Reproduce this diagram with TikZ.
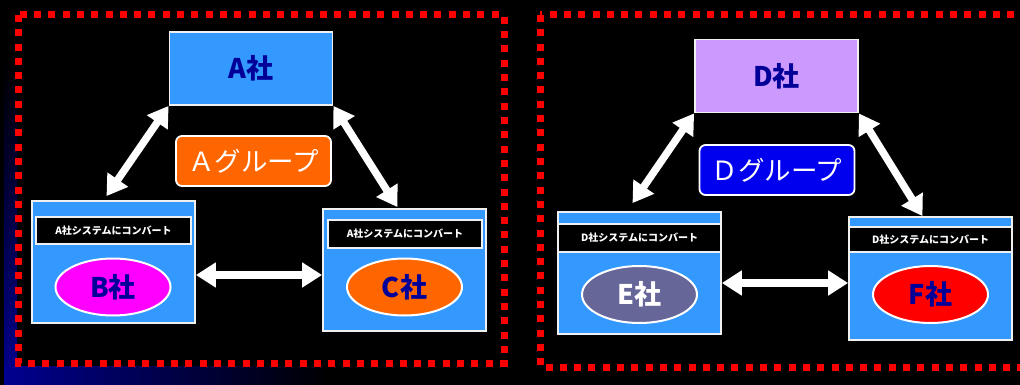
\documentclass[tikz,border=0pt]{standalone}
\usepackage{fontspec}
\newfontfamily\jp{Noto Sans CJK JP}
\usetikzlibrary{arrows.meta,shapes.geometric}

\definecolor{sky}{HTML}{3399FF}
\definecolor{navy}{HTML}{000099}
\definecolor{tangerine}{HTML}{FF6600}
\definecolor{lilac}{HTML}{CC99FF}
\definecolor{royal}{HTML}{0000EE}
\definecolor{slate}{HTML}{666699}
\definecolor{fuchsia}{HTML}{FF00FF}
\definecolor{deepblue}{HTML}{000090}

\tikzset{
  firm/.style={draw=white!88!gray, line width=1.8pt, fill=sky, inner sep=0pt,
    minimum width=163pt, minimum height=122pt},
  parent/.style={firm, minimum height=73pt, text=navy,
    font=\jp\bfseries\fontsize{27}{27}\selectfont},
  bar/.style={draw=white!88!gray, line width=1.6pt, fill=black, text=white, inner sep=0pt,
    font=\jp\bfseries\fontsize{10}{10}\selectfont},
  oval/.style={ellipse, draw=white, line width=2pt, inner sep=0pt,
    minimum width=115pt, minimum height=57pt, text=navy,
    font=\jp\bfseries\fontsize{27}{27}\selectfont},
  group/.style={draw=white, line width=1.8pt, rounded corners=6pt, text=white,
    minimum width=155pt, minimum height=50pt, font=\jp\fontsize{26.5}{26.5}\selectfont},
  link/.style={white, line width=7.5pt,
    {Triangle[length=20pt,width=24pt]}-{Triangle[length=20pt,width=24pt]}},
  frame/.style={red, line width=7pt, dash pattern=on 7pt off 7.3pt}
}

\begin{document}
\begin{tikzpicture}[x=1pt,y=-1pt]
  \clip (0,0) rectangle (1020,385);
  \fill[black] (0,0) rectangle (1020,385);
  % blue backdrop showing at the lower left
  \shade[top color=black, bottom color=deepblue] (4,60) rectangle (17,385);
  \shade[left color=deepblue, middle color=deepblue!70!black, right color=black] (4,366) rectangle (330,385);

  % dotted frames
  \draw[frame] (18.5,15) rectangle (504,363);
  \draw[frame] (540,15) rectangle (1040,367);

  % A group
  \node[parent] (a) at (251,68.5) {A社};
  \node[group, fill=tangerine] (ag) at (253.5,161) {Ａグループ};
  \node[firm] (b) at (113.5,262) {};
  \node[bar, minimum width=155pt, minimum height=27pt] (bbar) at (113.5,230.5) {A社システムにコンバート};
  \node[oval, fill=fuchsia] (bo) at (113,287) {B社};
  \node[firm] (c) at (404.5,270) {};
  \node[bar, minimum width=154pt, minimum height=28pt] (cbar) at (405,234) {A社システムにコンバート};
  \node[oval, fill=tangerine] (co) at (404.5,287) {C社};

  \draw[link] (a.south west) -- ([xshift=-7pt,yshift=4pt]b.north);
  \draw[link] (a.south east) -- ([xshift=-7pt,yshift=1pt]c.north);
  \draw[link] ([yshift=-13pt]b.east) -- ([yshift=-13pt]b.east -| c.west);

  % D group
  \node[parent, fill=lilac] (d) at (776.5,76) {D社};
  \node[group, fill=royal] (dg) at (777,170) {Ｄグループ};
  \node[firm] (e) at (639.5,273) {};
  \node[bar, minimum width=163pt, minimum height=28pt] (ebar) at (639.5,238) {D社システムにコンバート};
  \node[oval, fill=slate, text=white] (eo) at (639.5,294.5) {E社};
  \node[firm, minimum height=123pt] (f) at (930.5,278.5) {};
  \node[bar, minimum width=163pt, minimum height=25pt] (fbar) at (930.5,239.5) {D社システムにコンバート};
  \node[oval, fill=red] (fo) at (930.5,294.5) {F社};

  \draw[link] (d.south west) -- ([xshift=-7pt,yshift=8pt]e.north);
  \draw[link] (d.south east) -- ([xshift=-8pt]f.north);
  \draw[link] ([yshift=-10pt]e.east) -- ([yshift=-10pt]e.east -| f.west);
\end{tikzpicture}
\end{document}
